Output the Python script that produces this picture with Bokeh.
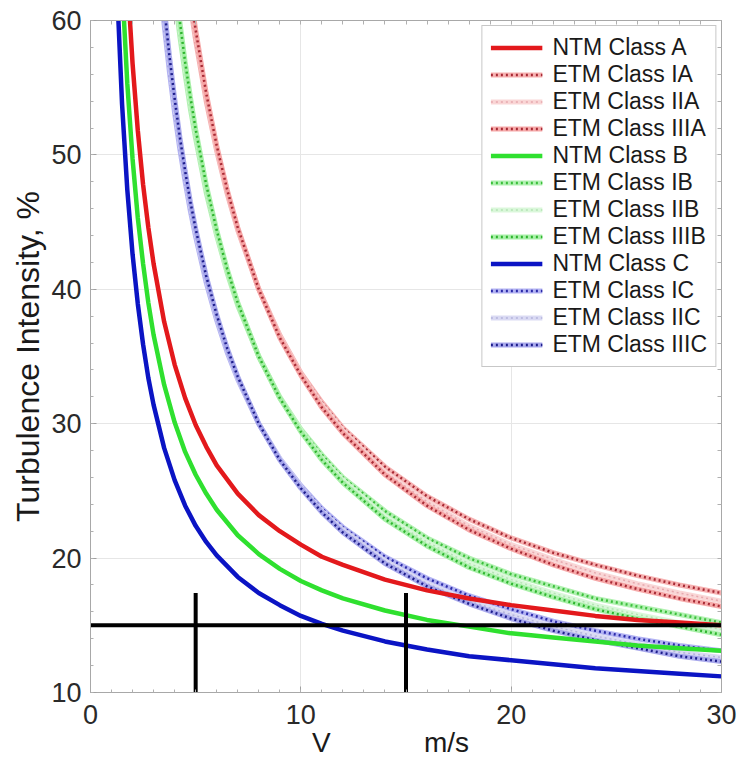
from bokeh.plotting import figure
from bokeh.models import Range1d, LinearAxis, FixedTicker, Legend, LegendItem
from bokeh.embed import file_html
from bokeh.resources import INLINE

# ---------------- data ----------------
V_NTM = [1.25, 1.5, 1.75, 2, 2.25, 2.5, 2.75, 3, 3.5, 4, 4.5, 5, 5.5, 6, 7, 8, 9, 10,
         11, 12, 14, 16, 18, 20, 22, 24, 26, 28, 30]
V_ETM = [2.75, 3, 3.25, 3.5, 3.75, 4, 4.25, 4.5, 4.75, 5, 5.5, 6, 6.5, 7, 8, 9, 10,
         11, 12, 14, 16, 18, 20, 22, 24, 26, 28, 30]

NTM_A = [83.7, 71.7, 63.2, 56.8, 51.8, 47.8, 44.6, 41.9, 37.6, 34.4, 31.9, 29.9, 28.3, 26.9,
         24.8, 23.2, 22.0, 21.0, 20.1, 19.5, 18.4, 17.6, 17.0, 16.5, 16.1, 15.7, 15.4, 15.2, 15.0]
NTM_B = [73.2, 62.8, 55.3, 49.7, 45.3, 41.9, 39.0, 36.6, 32.9, 30.1, 27.9, 26.2, 24.8, 23.6,
         21.7, 20.3, 19.2, 18.3, 17.6, 17.0, 16.1, 15.4, 14.9, 14.4, 14.1, 13.8, 13.5, 13.3, 13.1]
NTM_C = [62.8, 53.8, 47.4, 42.6, 38.9, 35.9, 33.4, 31.4, 28.2, 25.8, 23.9, 22.4, 21.2, 20.2,
         18.6, 17.4, 16.5, 15.7, 15.1, 14.6, 13.8, 13.2, 12.7, 12.4, 12.1, 11.8, 11.6, 11.4, 11.2]

ETM_IA = [98.8, 91.3, 85.0, 79.6, 74.9, 70.8, 67.2, 63.9, 61.1, 58.5, 54.0, 50.3, 47.1, 44.4,
          40.0, 36.6, 33.8, 31.6, 29.7, 26.8, 24.6, 22.9, 21.5, 20.4, 19.5, 18.7, 18.0, 17.4]
ETM_IIA = [100.4, 92.7, 86.3, 80.7, 75.9, 71.6, 67.9, 64.6, 61.7, 59.0, 54.4, 50.5, 47.3, 44.5,
           40.0, 36.5, 33.7, 31.4, 29.5, 26.4, 24.2, 22.4, 21.0, 19.9, 18.9, 18.1, 17.4, 16.8]
ETM_IIIA = [101.5, 93.7, 87.1, 81.4, 76.5, 72.2, 68.4, 65.1, 62.0, 59.3, 54.6, 50.7, 47.4, 44.6,
            40.0, 36.4, 33.6, 31.2, 29.3, 26.2, 23.9, 22.1, 20.7, 19.5, 18.5, 17.7, 17.0, 16.4]
ETM_IB = [86.4, 79.9, 74.4, 69.6, 65.5, 61.9, 58.8, 56.0, 53.4, 51.2, 47.2, 44.0, 41.2, 38.8,
          35.0, 32.0, 29.6, 27.7, 26.0, 23.5, 21.5, 20.0, 18.8, 17.9, 17.0, 16.4, 15.8, 15.2]
ETM_IIB = [87.9, 81.2, 75.5, 70.6, 66.4, 62.7, 59.4, 56.5, 53.9, 51.6, 47.6, 44.2, 41.4, 39.0,
           35.0, 31.9, 29.5, 27.4, 25.8, 23.1, 21.2, 19.6, 18.4, 17.4, 16.5, 15.8, 15.2, 14.7]
ETM_IIIB = [88.8, 82.0, 76.2, 71.3, 67.0, 63.2, 59.9, 56.9, 54.3, 51.9, 47.8, 44.4, 41.5, 39.0,
            35.0, 31.9, 29.4, 27.3, 25.6, 22.9, 20.9, 19.3, 18.1, 17.1, 16.2, 15.5, 14.9, 14.3]
ETM_IC = [74.1, 68.5, 63.7, 59.7, 56.2, 53.1, 50.4, 48.0, 45.8, 43.9, 40.5, 37.7, 35.3, 33.3,
          30.0, 27.4, 25.4, 23.7, 22.3, 20.1, 18.5, 17.2, 16.2, 15.3, 14.6, 14.0, 13.5, 13.1]
ETM_IIC = [75.3, 69.6, 64.7, 60.5, 56.9, 53.7, 50.9, 48.5, 46.2, 44.2, 40.8, 37.9, 35.5, 33.4,
           30.0, 27.4, 25.3, 23.5, 22.1, 19.8, 18.1, 16.8, 15.8, 14.9, 14.2, 13.6, 13.0, 12.6]
ETM_IIIC = [76.1, 70.3, 65.3, 61.1, 57.4, 54.2, 51.3, 48.8, 46.5, 44.5, 41.0, 38.1, 35.6, 33.5,
            30.0, 27.3, 25.2, 23.4, 21.9, 19.6, 17.9, 16.6, 15.5, 14.6, 13.9, 13.3, 12.7, 12.3]

LABELS = ["NTM Class A", "ETM Class IA", "ETM Class IIA", "ETM Class IIIA",
          "NTM Class B", "ETM Class IB", "ETM Class IIB", "ETM Class IIIB",
          "NTM Class C", "ETM Class IC", "ETM Class IIC", "ETM Class IIIC"]

REF_V = [5, 15]          # vertical marker lines
REF_TI = 15              # horizontal marker line
REF_TOP = 17.4           # top of vertical markers
X_TICKS = [0, 10, 20, 30]
Y_TICKS = [10, 20, 30, 40, 50, 60]
X_MINOR = list(range(0, 31))
Y_MINOR = list(range(10, 61, 2))
X_TITLE = ("V", "m/s")
Y_TITLE = "Turbulence Intensity, %"

# ---------------- styles ----------------
FONT = "Liberation Sans"
NTM_STYLE = {"A": "#e3191c", "B": "#2fe02f", "C": "#0b14c4"}
# (band colour, dot colour, dot width)
ETM_STYLE = {
    "IA": ("#f5a8a8", "#a82a35", 2.5), "IIA": ("#f8d2d2", "#e6a8ae", 1.5), "IIIA": ("#f5a0a0", "#a82a35", 2.5),
    "IB": ("#a8f0a8", "#3cbf3c", 2.5), "IIB": ("#d6f6d6", "#b4e4b4", 1.5), "IIIB": ("#a0eea0", "#2fb52f", 2.5),
    "IC": ("#ababf2", "#2a2aa8", 2.5), "IIC": ("#d6d6f2", "#b4b4dc", 1.5), "IIIC": ("#a0a0ea", "#1e1e8c", 2.5),
}
NBSP = "\u00a0"

p = figure(width=741, height=760, x_range=Range1d(0, 30), y_range=Range1d(10, 60),
           output_backend="svg", toolbar_location=None,
           min_border_left=90, min_border_right=20, min_border_top=20, min_border_bottom=68)
p.background_fill_color = "white"
p.border_fill_color = "white"
p.outline_line_color = "#a8a8a8"

for ax, ticks, minor in ((p.xaxis[0], X_TICKS, X_MINOR), (p.yaxis[0], Y_TICKS, Y_MINOR)):
    ax.ticker = FixedTicker(ticks=ticks, minor_ticks=minor)
    ax.axis_line_color = "#a8a8a8"
    ax.major_tick_line_color = "#a0a0a0"
    ax.minor_tick_line_color = "#b0b0b0"
    ax.major_tick_in = 6
    ax.major_tick_out = 0
    ax.minor_tick_in = 3
    ax.minor_tick_out = 0
    ax.major_label_text_font = FONT
    ax.major_label_text_font_size = "27px"
    ax.major_label_text_color = "#2a2a2a"
p.xaxis.major_label_standoff = 12
p.yaxis.major_label_standoff = 9
p.yaxis.axis_label = Y_TITLE
p.yaxis.axis_label_text_font = FONT
p.yaxis.axis_label_text_font_size = "32px"
p.yaxis.axis_label_text_font_style = "normal"
p.yaxis.axis_label_text_color = "#1a1a1a"
p.yaxis.axis_label_standoff = 2

p.xaxis.axis_label = X_TITLE[0] + NBSP * 12 + X_TITLE[1] + NBSP * 4
p.xaxis.axis_label_text_font = FONT
p.xaxis.axis_label_text_font_size = "28px"
p.xaxis.axis_label_text_font_style = "normal"
p.xaxis.axis_label_text_color = "#1a1a1a"
p.xaxis.axis_label_standoff = 0

# box-style ticks on top and right (minor ticks only, no labels)
for loc, minor in (("above", X_MINOR), ("right", Y_MINOR)):
    ax = LinearAxis(ticker=FixedTicker(ticks=[], minor_ticks=minor),
                    axis_line_color="#a8a8a8", minor_tick_line_color="#b0b0b0",
                    major_tick_in=0, major_tick_out=0, minor_tick_in=4, minor_tick_out=0,
                    major_label_standoff=0)
    p.add_layout(ax, loc)

p.xgrid.grid_line_color = "#e6e6e6"
p.ygrid.grid_line_color = "#e6e6e6"
p.xgrid.ticker = FixedTicker(ticks=X_TICKS)
p.ygrid.ticker = FixedTicker(ticks=Y_TICKS)

series = {
    "NTM Class A": ("NTM", "A", NTM_A), "ETM Class IA": ("ETM", "IA", ETM_IA),
    "ETM Class IIA": ("ETM", "IIA", ETM_IIA), "ETM Class IIIA": ("ETM", "IIIA", ETM_IIIA),
    "NTM Class B": ("NTM", "B", NTM_B), "ETM Class IB": ("ETM", "IB", ETM_IB),
    "ETM Class IIB": ("ETM", "IIB", ETM_IIB), "ETM Class IIIB": ("ETM", "IIIB", ETM_IIIB),
    "NTM Class C": ("NTM", "C", NTM_C), "ETM Class IC": ("ETM", "IC", ETM_IC),
    "ETM Class IIC": ("ETM", "IIC", ETM_IIC), "ETM Class IIIC": ("ETM", "IIIC", ETM_IIIC),
}

renderers = {}
for lab in LABELS:
    kind, key, ys = series[lab]
    if kind == "ETM":
        band, dot, dw = ETM_STYLE[key]
        r1 = p.line(V_ETM, ys, line_color=band, line_width=5, line_alpha=0.9)
        r2 = p.line(V_ETM, ys, line_color=dot, line_width=dw, line_dash="2 3")
        renderers[lab] = [r1, r2]
for lab in LABELS:
    kind, key, ys = series[lab]
    if kind == "NTM":
        r = p.line(V_NTM, ys, line_color=NTM_STYLE[key], line_width=4.5)
        renderers[lab] = [r]

# black reference lines
p.segment(x0=[X_TICKS[0]], y0=[REF_TI], x1=[X_TICKS[-1]], y1=[REF_TI], line_color="black", line_width=4)
p.segment(x0=REF_V, y0=[Y_TICKS[0] - 0.5] * len(REF_V), x1=REF_V, y1=[REF_TOP] * len(REF_V),
          line_color="black", line_width=4)

legend = Legend(items=[LegendItem(label=lab, renderers=renderers[lab]) for lab in LABELS],
                location="top_right")
legend.margin = 5
legend.padding = 8
legend.spacing = 0
legend.glyph_width = 52
legend.glyph_height = 25
legend.label_height = 25
legend.label_standoff = 10
legend.label_text_font = FONT
legend.label_text_font_size = "23px"
legend.label_text_color = "#1a1a1a"
legend.border_line_color = "#909090"
legend.border_line_width = 1
legend.background_fill_color = "white"
legend.background_fill_alpha = 1
p.add_layout(legend)

open("out.html", "w").write(file_html(p, INLINE))
